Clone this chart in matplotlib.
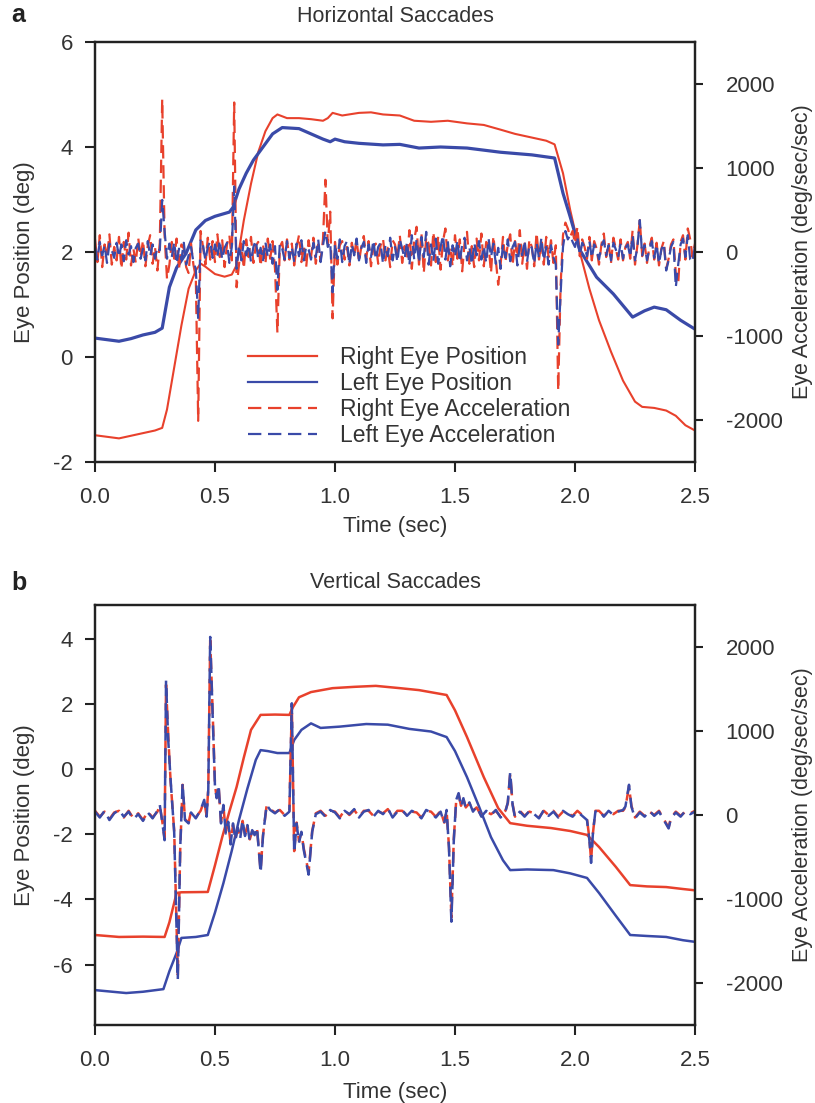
import matplotlib
matplotlib.use("Agg")
import matplotlib.pyplot as plt
from matplotlib.lines import Line2D

plt.rcParams['font.family'] = ['Liberation Sans', 'DejaVu Sans']
plt.rcParams['axes.unicode_minus'] = False

RED = '#e8412c'
BLUE = '#3a4aa8'
TXT = '#333333'

# ---------------- Horizontal saccades (panel a) ----------------
h_red_pos_t = [0.00,0.05,0.10,0.15,0.20,0.25,0.28,0.30,0.33,0.36,0.39,0.42,0.44,0.46,0.50,0.54,0.57,0.59,
               0.62,0.65,0.68,0.71,0.74,0.76,0.80,0.85,0.90,0.95,0.97,0.99,1.03,1.10,1.15,1.20,1.27,1.33,
               1.40,1.47,1.55,1.62,1.69,1.75,1.82,1.88,1.915,1.95,1.98,2.02,2.06,2.10,2.15,2.20,2.25,2.28,
               2.33,2.38,2.42,2.46,2.50]
h_red_pos = [-1.49,-1.52,-1.55,-1.50,-1.45,-1.40,-1.35,-1.0,-0.2,0.6,1.3,1.65,1.78,1.72,1.58,1.53,1.57,1.75,
             2.6,3.3,3.9,4.3,4.55,4.62,4.55,4.55,4.53,4.5,4.55,4.65,4.6,4.65,4.66,4.62,4.6,4.5,
             4.48,4.5,4.45,4.42,4.33,4.25,4.18,4.12,4.05,3.5,2.8,2.0,1.3,0.7,0.1,-0.45,-0.85,-0.95,
             -0.97,-1.02,-1.12,-1.3,-1.4]

h_blue_pos_t = [0.00,0.05,0.10,0.15,0.20,0.25,0.28,0.31,0.34,0.38,0.42,0.46,0.50,0.56,0.575,0.60,0.63,0.66,
                0.70,0.74,0.78,0.85,0.90,0.95,0.98,1.00,1.04,1.10,1.20,1.27,1.35,1.44,1.55,1.69,1.82,1.915,
                1.95,1.98,2.02,2.09,2.16,2.24,2.29,2.33,2.38,2.44,2.50]
h_blue_pos = [0.36,0.33,0.30,0.35,0.42,0.47,0.55,1.33,1.7,1.98,2.42,2.6,2.68,2.76,2.85,3.2,3.5,3.75,
              4.0,4.25,4.37,4.35,4.25,4.15,4.1,4.15,4.1,4.07,4.04,4.05,3.98,4.0,3.98,3.9,3.85,3.79,
              3.12,2.67,2.04,1.52,1.2,0.76,0.88,0.95,0.9,0.7,0.53]

# acceleration sampled every 0.01 s from 0.00 to 2.50
h_red_acc = [150,-120,200,-180,90,-60,210,-150,60,-100,
             180,-200,120,-90,230,-160,40,-130,170,-60,
             140,-170,80,200,-140,60,-220,110,1820,200,
             -320,-150,120,-80,160,-200,90,40,-180,-250,
             100,-150,-300,-2010,250,60,-150,170,-90,130,
             -120,210,-60,140,-180,90,200,-100,1780,-420,
             -150,100,-200,150,-60,180,-130,70,120,-170,
             90,-140,160,-80,130,-200,-960,60,120,-100,
             150,-90,100,-160,60,200,-120,80,-180,140,
             -60,170,-140,90,-100,150,860,100,480,-790,
             120,-150,80,130,-90,60,-160,110,-40,150,
             -120,70,190,-80,130,-170,60,100,-140,80,
             160,-100,50,-180,140,90,-60,200,-130,70,
             -90,260,-200,150,300,-150,230,-250,180,100,
             -160,240,-120,190,-210,130,280,-100,60,-170,
             200,-80,150,-230,110,240,-140,70,-180,160,
             -100,220,-170,120,80,-250,190,-90,-390,-150,
             180,-120,90,210,-160,130,-70,260,-140,100,
             -200,150,60,-170,230,-90,120,-150,180,-60,
             140,-130,80,-1650,-400,200,350,280,180,250,
             100,300,-50,150,60,-80,180,-100,130,40,
             -150,90,220,-60,110,-130,170,40,-90,150,
             -100,60,120,-80,260,-150,80,380,-50,100,
             -130,60,170,-90,110,-160,40,130,-200,-80,
             90,150,-250,-380,120,200,-90,280,150,-60,
             100]
h_blue_acc = [60,-90,120,-40,80,-130,100,20,-70,110,
              -60,90,-110,140,-30,70,-120,50,100,-80,
              40,-100,130,-50,90,-80,60,20,620,250,
              -80,100,-60,120,-140,40,-90,110,-150,-40,
              60,-120,-200,-800,150,80,-100,60,130,-70,
              90,-60,140,-90,50,110,-130,60,780,-200,
              80,-100,130,-40,90,-120,60,140,-80,50,
              -110,120,-60,90,-140,70,-450,100,40,-90,
              130,-70,60,-120,100,-50,140,-100,70,30,
              -90,110,-60,150,-120,80,250,60,120,-480,
              100,-80,150,-120,70,130,-150,90,-40,160,
              -100,50,120,-130,90,-60,140,-90,60,110,
              -140,80,-50,170,-100,60,-120,150,40,-80,
              120,-160,200,-90,150,-130,180,-60,240,-150,
              90,-110,160,-140,60,200,-90,130,-170,80,
              -60,140,-120,90,170,-100,60,-150,110,-40,
              130,-90,70,-130,160,-60,100,-140,50,-200,
              90,-70,150,-110,60,120,-160,80,-40,140,
              -120,90,50,-140,110,-70,170,-100,60,-150,
              80,-60,-150,-1100,-500,60,250,150,200,120,
              60,180,-40,110,60,-50,130,-70,90,20,
              -90,70,140,-40,80,-100,110,30,-60,100,
              -80,50,90,-60,200,-100,60,380,-40,80,
              -100,40,130,-70,90,-140,30,100,-220,-100,
              60,120,-420,-150,90,160,-60,200,-90,-120,
              80]
h_acc_t = [i / 100 for i in range(len(h_red_acc))]

# ---------------- Vertical saccades (panel b) ----------------
v_red_pos_t = [0.00,0.10,0.20,0.29,0.31,0.34,0.36,0.47,0.50,0.53,0.56,0.59,0.62,0.65,0.69,0.75,0.81,0.825,
               0.85,0.90,0.99,1.08,1.17,1.27,1.35,1.465,1.50,1.55,1.62,1.68,1.73,1.80,1.90,1.98,2.05,2.10,
               2.17,2.23,2.30,2.38,2.45,2.50]
v_red_pos = [-5.09,-5.15,-5.14,-5.15,-4.7,-3.8,-3.78,-3.77,-2.95,-2.09,-1.3,-0.55,0.35,1.2,1.66,1.67,1.66,1.9,
             2.2,2.36,2.48,2.52,2.55,2.48,2.42,2.27,1.8,0.98,-0.25,-1.2,-1.66,-1.74,-1.81,-1.9,-2.02,-2.39,
             -3.0,-3.56,-3.6,-3.62,-3.68,-3.72]

v_blue_pos_t = [0.00,0.13,0.20,0.285,0.31,0.34,0.36,0.42,0.47,0.50,0.535,0.57,0.60,0.635,0.67,0.69,0.72,0.76,
                0.81,0.83,0.86,0.90,0.94,1.02,1.13,1.22,1.31,1.40,1.465,1.50,1.55,1.60,1.65,1.70,1.73,1.80,
                1.91,1.98,2.05,2.10,2.17,2.23,2.30,2.38,2.45,2.50]
v_blue_pos = [-6.78,-6.87,-6.83,-6.75,-6.2,-5.64,-5.18,-5.15,-5.09,-4.4,-3.5,-2.5,-1.56,-0.6,0.28,0.58,0.55,0.49,
              0.49,0.89,1.2,1.4,1.26,1.3,1.38,1.36,1.23,1.15,0.98,0.55,-0.25,-1.15,-2.09,-2.8,-3.1,-3.08,
              -3.1,-3.2,-3.34,-3.8,-4.5,-5.09,-5.12,-5.15,-5.25,-5.3]

v_acc_t = [0.00,0.02,0.04,0.06,0.08,0.10,0.12,0.14,0.16,0.18,0.20,0.22,0.24,0.26,0.27,0.28,0.29,0.296,
           0.305,0.315,0.33,0.345,0.355,0.365,0.375,0.39,0.40,0.42,0.44,0.455,0.465,0.472,0.48,0.49,0.50,0.507,
           0.515,0.525,0.535,0.545,0.555,0.565,0.575,0.585,0.595,0.605,0.615,0.625,0.635,0.645,0.655,0.665,
           0.675,0.69,0.70,0.715,0.73,0.75,0.77,0.79,0.81,0.82,0.83,0.84,0.85,0.86,0.87,0.89,0.905,0.92,
           0.94,0.96,0.98,1.00,1.02,1.04,1.06,1.08,1.10,1.12,1.14,1.16,1.18,1.20,1.22,1.24,1.26,1.28,1.30,
           1.32,1.34,1.36,1.38,1.40,1.42,1.44,1.455,1.465,1.475,1.485,1.495,1.505,1.515,1.525,1.535,1.545,
           1.56,1.575,1.59,1.61,1.63,1.65,1.67,1.69,1.71,1.72,1.73,1.74,1.75,1.77,1.79,1.81,1.83,1.85,1.87,
           1.89,1.91,1.93,1.95,1.97,1.99,2.01,2.03,2.05,2.06,2.067,2.075,2.085,2.10,2.12,2.14,2.16,2.18,2.20,
           2.21,2.225,2.235,2.25,2.27,2.29,2.31,2.33,2.35,2.37,2.39,2.40,2.42,2.44,2.46,2.48,2.50]
v_blue_acc = [40,-30,50,-60,20,60,-20,40,-50,10,-70,30,-40,50,120,-80,-300,1600,
              900,420,-210,-1960,-400,380,-60,-100,30,-40,60,180,-20,300,2120,1200,330,200,
              360,-100,120,-220,-80,-350,-100,-300,-150,-280,-60,-250,-120,-310,-180,-240,
              -150,-690,-250,120,60,20,70,-10,40,1330,-450,-100,-330,-200,-420,-710,-200,10,
              40,-20,60,30,-40,50,10,70,-30,40,60,-20,50,10,80,-30,40,60,-10,
              50,20,-40,60,30,-30,40,-100,60,-400,-1270,-300,180,260,100,200,80,
              150,40,100,-20,50,0,60,-30,40,150,510,120,-30,40,-20,50,10,-40,60,
              -10,40,-30,50,10,-20,40,-10,-60,-300,-570,-200,40,60,-20,50,0,40,60,
              100,360,100,-40,30,-20,50,-10,40,-60,-160,-40,30,-20,50,10,40]
v_red_acc = [50,-20,40,-50,30,50,-30,50,-40,20,-60,40,-30,40,110,-70,-280,1550,
             950,400,-190,-1900,-420,360,-50,-90,40,-30,50,170,-10,320,2080,1250,350,210,
             340,-80,100,-200,-90,-330,-120,-280,-160,-260,-70,-230,-130,-290,-190,-220,
             -160,-660,-240,110,70,30,60,0,50,1300,-430,-90,-310,-210,-400,-680,-190,20,
             50,-10,50,40,-30,60,0,60,-20,50,50,-10,40,20,70,-20,50,50,0,
             40,30,-30,50,40,-20,50,-90,50,-380,-1220,-280,170,250,110,190,90,
             140,50,90,-10,40,10,50,-20,50,140,490,130,-20,50,-10,40,20,-30,50,
             0,50,-20,40,20,-10,50,0,-50,-280,-540,-210,50,50,-10,40,10,50,50,
             90,340,110,-30,40,-10,40,0,50,-50,-150,-30,40,-10,40,20,50]

# ---------------- figure ----------------
W, H = 815, 1103
fig = plt.figure(figsize=(W / 100, H / 100), dpi=100)

def fx(px):
    return px / W

def fy(py):
    return 1 - py / H

ax_a = fig.add_axes([fx(95), fy(462), 600 / W, 420 / H])
ax_b = fig.add_axes([fx(95), fy(1025), 600 / W, 420 / H])

DASH = (6, 3)

def style(ax, ax2, ylim, yticks):
    ax.set_xlim(0, 2.5)
    ax.set_ylim(*ylim)
    ax.set_yticks(yticks)
    ax.set_xticks([0.0, 0.5, 1.0, 1.5, 2.0, 2.5])
    ax.set_xticklabels(['0.0', '0.5', '1.0', '1.5', '2.0', '2.5'])
    ax2.set_ylim(-2500, 2500)
    ax2.set_yticks([-2000, -1000, 0, 1000, 2000])
    for a in (ax, ax2):
        for s in a.spines.values():
            s.set_linewidth(1.6)
            s.set_color('#222222')
    ax.tick_params(axis='both', direction='out', length=7, width=1.5, colors='#222222',
                   labelcolor=TXT, labelsize=16)
    ax.tick_params(axis='y', pad=9)
    ax.tick_params(axis='x', pad=11)
    ax2.tick_params(axis='y', direction='out', length=6, width=1.5, colors='#222222',
                    labelcolor=TXT, labelsize=16, pad=16)
    ax.set_xlabel('Time (sec)', fontsize=16, color=TXT)
    ax.set_ylabel('Eye Position (deg)', fontsize=16, color=TXT)
    ax2.set_ylabel('Eye Acceleration (deg/sec/sec)', fontsize=15.5, color=TXT, rotation=90)
    ax.yaxis.set_label_coords(-0.1, 0.5)
    ax2.yaxis.set_label_coords(1.162, 0.5)
    ax.xaxis.set_label_coords(0.5, -0.128)

# panel a
ax2_a = ax_a.twinx()
ax_a.plot(h_red_pos_t, h_red_pos, color=RED, lw=1.5, zorder=3)
ax_a.plot(h_blue_pos_t, h_blue_pos, color=BLUE, lw=2.3, zorder=3)
ax2_a.plot(h_acc_t, h_red_acc, color=RED, lw=1.6, dashes=DASH)
ax2_a.plot(h_acc_t, h_blue_acc, color=BLUE, lw=1.6, dashes=DASH)
style(ax_a, ax2_a, (-2, 6), [-2, 0, 2, 4, 6])

handles = [Line2D([], [], color=RED, lw=1.6),
           Line2D([], [], color=BLUE, lw=1.6),
           Line2D([], [], color=RED, lw=1.6, dashes=DASH),
           Line2D([], [], color=BLUE, lw=1.6, dashes=DASH)]
labels = ['Right Eye Position', 'Left Eye Position', 'Right Eye Acceleration', 'Left Eye Acceleration']
leg = ax2_a.legend(handles, labels, loc='upper left', bbox_to_anchor=(0.255, 0.277),
                   frameon=False, fontsize=16.5, handlelength=3.0, handletextpad=1.0,
                   labelspacing=0.13, borderpad=0, borderaxespad=0)
for t in leg.get_texts():
    t.set_color(TXT)

# panel b
ax2_b = ax_b.twinx()
ax_b.plot(v_red_pos_t, v_red_pos, color=RED, lw=1.8, zorder=3)
ax_b.plot(v_blue_pos_t, v_blue_pos, color=BLUE, lw=1.8, zorder=3)
ax2_b.plot(v_acc_t, v_red_acc, color=RED, lw=1.8, dashes=DASH)
ax2_b.plot(v_acc_t, v_blue_acc, color=BLUE, lw=1.8, dashes=DASH)
style(ax_b, ax2_b, (-7.85, 5.03), [-6, -4, -2, 0, 2, 4])
ax_b.xaxis.set_label_coords(0.5, -0.135)

# titles and panel letters
fig.text(fx(395), fy(17), 'Horizontal Saccades', ha='center', va='center', fontsize=15.5, color=TXT)
fig.text(fx(395), fy(583), 'Vertical Saccades', ha='center', va='center', fontsize=15.5, color=TXT)
fig.text(fx(11), fy(15), 'a', ha='left', va='center', fontsize=18, fontweight='bold', color='#222222')
fig.text(fx(11), fy(583), 'b', ha='left', va='center', fontsize=18, fontweight='bold', color='#222222')

fig.savefig('out.png', dpi=100)
